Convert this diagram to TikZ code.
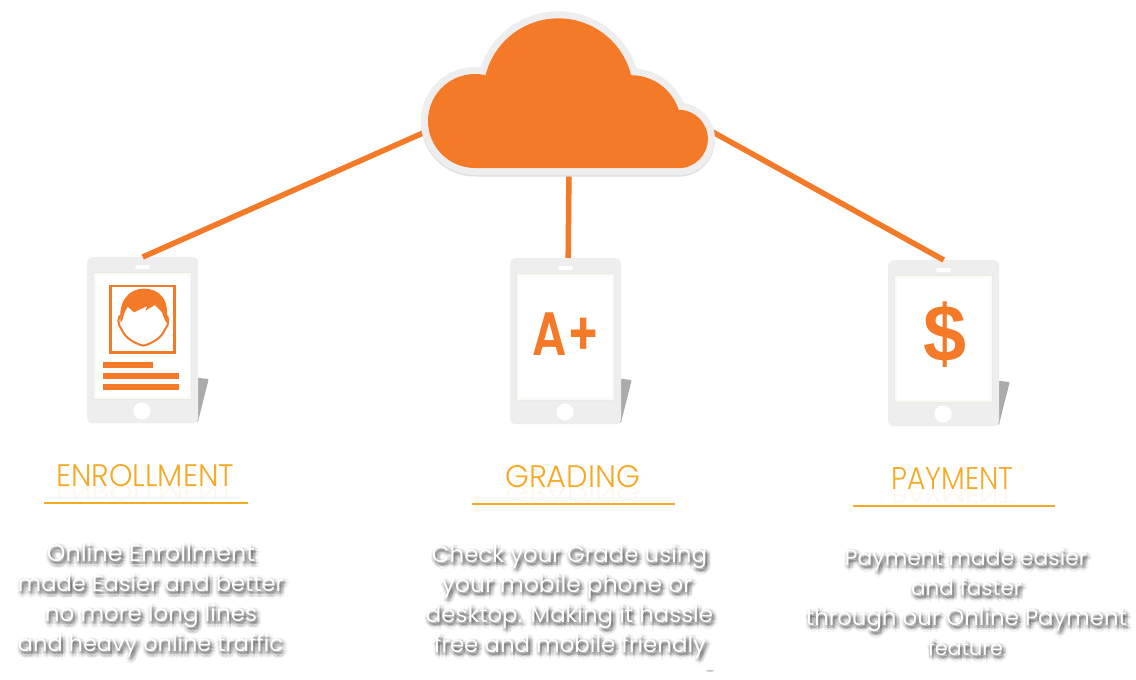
\documentclass[tikz,border=0pt]{standalone}
\usepackage{fontspec}
\setmainfont{Poppins}
\newfontfamily\headfont{Poppins Light}
\newfontfamily\medfont{Poppins SemiBold}
\newfontfamily\glyphfont{Liberation Sans}
\definecolor{cloudorange}{HTML}{F47A27}
\definecolor{devgrey}{HTML}{EFEEEF}
\definecolor{folio}{HTML}{ABABAB}
\definecolor{headgold}{HTML}{F6A924}
\definecolor{screenedge}{HTML}{EDEAE4}
\definecolor{screenglow}{HTML}{FBFAF7}
\tikzset{
  link/.style={draw=cloudorange,line width=5.5pt},
  tabletbody/.style={fill=devgrey,rounded corners=5pt,minimum width=111pt,minimum height=166pt,inner sep=0pt,anchor=north west},
  rule/.style={draw=headgold,line width=2pt},
  heading/.style={text=headgold,inner sep=0pt,anchor=base west,font=\headfont},
  reflection/.style={text=headgold,text opacity=.09,inner sep=0pt,anchor=north west,font=\headfont},
  bodytext/.style={text=white,inner sep=0pt,anchor=base},
  bodyshadow/.style={text=black,text opacity=.05,inner sep=0pt,anchor=base},
  icon/.style={text=cloudorange,inner sep=0pt,anchor=center},
}
% name, centre x, baseline y, width, text
\newcommand{\blurline}[5]{%
  \foreach \dx/\dy [count=\k] in {2/3,2/-1,2/7,-2/3,6/3,-.8/.2,4.8/.2,-.8/5.8,4.8/5.8,-.3/3,4.3/3,2/.7,2/5.3,.4/1.4,3.6/1.4,.4/4.6,3.6/4.6,1/3,3/3,2/2,2/4,2/3}{
    \node[bodyshadow] (#1-s\k) at (#2+\dx,#3+\dy) {\resizebox{#4pt}{!}{#5}};
  }
  \node[bodytext] (#1) at (#2,#3) {\resizebox{#4pt}{!}{#5}};
}
% name, left x, baseline y, width, text
\newcommand{\headline}[5]{%
  \node[reflection] (#1-r) at (#2,#3+.5) {\scalebox{1}[-.6]{\resizebox{#4pt}{22pt}{#5}}};
  \node[heading] (#1) at (#2,#3) {\resizebox{#4pt}{22pt}{#5}};
}
% name, x, y
\newcommand{\tablet}[3]{%
  \fill[folio,rounded corners=1pt] (#2+108,#3+120.5) -- (#2+121.7,#3+122) -- (#2+111,#3+164.5) -- (#2+104,#3+166) -- cycle;
  \node[tabletbody] (#1) at (#2,#3) {};
  \fill[white,draw=screenedge,line width=.7pt] (#2+6.3,#3+15.2) rectangle (#2+104.7,#3+142);
  \draw[screenglow,line width=2pt] (#2+7.8,#3+16.7) rectangle (#2+103.2,#3+140.5);
  \fill[white,rounded corners=2pt] (#2+48,#3+8) rectangle (#2+63,#3+12);
  \fill[white] (#2+55,#3+154) circle[radius=8.6];
}
\begin{document}
\begin{tikzpicture}[x=1pt,y=-1pt]
\useasboundingbox[fill=white] (0,0) rectangle (1136,680);
% connector ends inside the cloud
\coordinate (cloudL) at (432,129);
\coordinate (cloudM) at (569,165);
\coordinate (cloudR) at (700,125);
\tablet{tabE}{87}{257}
\tablet{tabG}{510}{258}
\tablet{tabP}{888}{260}
\draw[link] (cloudL) -- (tabE.north);
\draw[link] (cloudM) -- ([xshift=2.5pt]tabG.north);
\draw[link] (cloudR) -- (tabP.north);
% cloud
\def\cloudpath{(475,168) arc[start angle=90,end angle=283,radius=47]
  arc[start angle=194,end angle=346,radius=75]
  arc[start angle=270,end angle=342,radius=50]
  arc[start angle=270,end angle=450,radius=29.2] -- cycle}
\draw[black!13,line width=14pt,line join=round,shift={(0,1.5)}] \cloudpath;
\draw[devgrey,line width=14pt,line join=round] \cloudpath;
\fill[cloudorange] \cloudpath;
% enrollment icon
\draw[cloudorange,line width=2.6pt] (110.5,286) rectangle (174.5,352.5);
\fill[cloudorange] (103.3,362.3) rectangle (152.7,368.3);
\fill[cloudorange] (103.3,373) rectangle (179.3,379);
\fill[cloudorange] (103.3,383.7) rectangle (179.3,389.7);
\begin{scope}[shift={(105,280)},x=.3333pt,y=-.3333pt]
  \fill[white] (50,105) .. controls (38,105) and (36,135) .. (50,148)
    .. controls (58,170) and (85,190) .. (115,197)
    .. controls (145,190) and (172,170) .. (180,148)
    .. controls (194,135) and (192,105) .. (180,105) -- cycle;
  \draw[cloudorange,line width=2pt] (50,105) .. controls (38,105) and (36,135) .. (50,148)
    .. controls (58,170) and (85,190) .. (115,197)
    .. controls (145,190) and (172,170) .. (180,148)
    .. controls (194,135) and (192,105) .. (180,105);
  \fill[cloudorange] (47,128) .. controls (38,60) and (75,26) .. (115,26)
    .. controls (167,26) and (194,60) .. (185,128)
    .. controls (176,120) and (176,100) .. (165,90)
    -- (150,75) -- (121,92) -- (127,78) -- (87,97) -- (68,80) -- (60,95)
    .. controls (54,105) and (56,120) .. (47,128) -- cycle;
\end{scope}
% grading and payment glyphs
\node[icon,font=\medfont] (gradeicon) at (566,334.3) {\resizebox{66.6pt}{42.7pt}{A+}};
\node[icon,font=\glyphfont\bfseries] (payicon) at (945.5,334.5) {\resizebox*{43pt}{65.6pt}{\$}};
% headings
\headline{hE}{56}{486}{178}{ENROLLMENT}
\headline{hG}{505}{487}{135}{GRADING}
\headline{hP}{891}{489}{122}{PAYMENT}
\draw[rule] (44,502.5) -- (248,502.5);
\draw[rule] (472,503.5) -- (675,503.5);
\draw[rule] (853,505.8) -- (1055,505.8);
% body text
\blurline{e1}{151}{561.7}{208}{Online Enrollment}
\blurline{e2}{151}{591.7}{266}{made Easier and better}
\blurline{e3}{151}{621.7}{212}{no more long lines}
\blurline{e4}{150.5}{651.7}{265}{and heavy online traffic}
\blurline{g1}{569.5}{562}{275}{Check your Grade using}
\blurline{g2}{567}{592}{250}{your mobile phone or}
\blurline{g3}{569.5}{622}{287}{desktop. Making it hassle}
\blurline{g4}{570}{652}{272}{free and mobile friendly}
\blurline{p1}{966}{565}{242}{Payment made easier}
\blurline{p2}{966.5}{595}{111}{and faster}
\blurline{p3}{966.5}{625}{321}{through our Online Payment}
\blurline{p4}{965.5}{655}{75}{feature}
\fill[black!22] (710,670.8) ellipse[x radius=4,y radius=1];
\end{tikzpicture}
\end{document}
